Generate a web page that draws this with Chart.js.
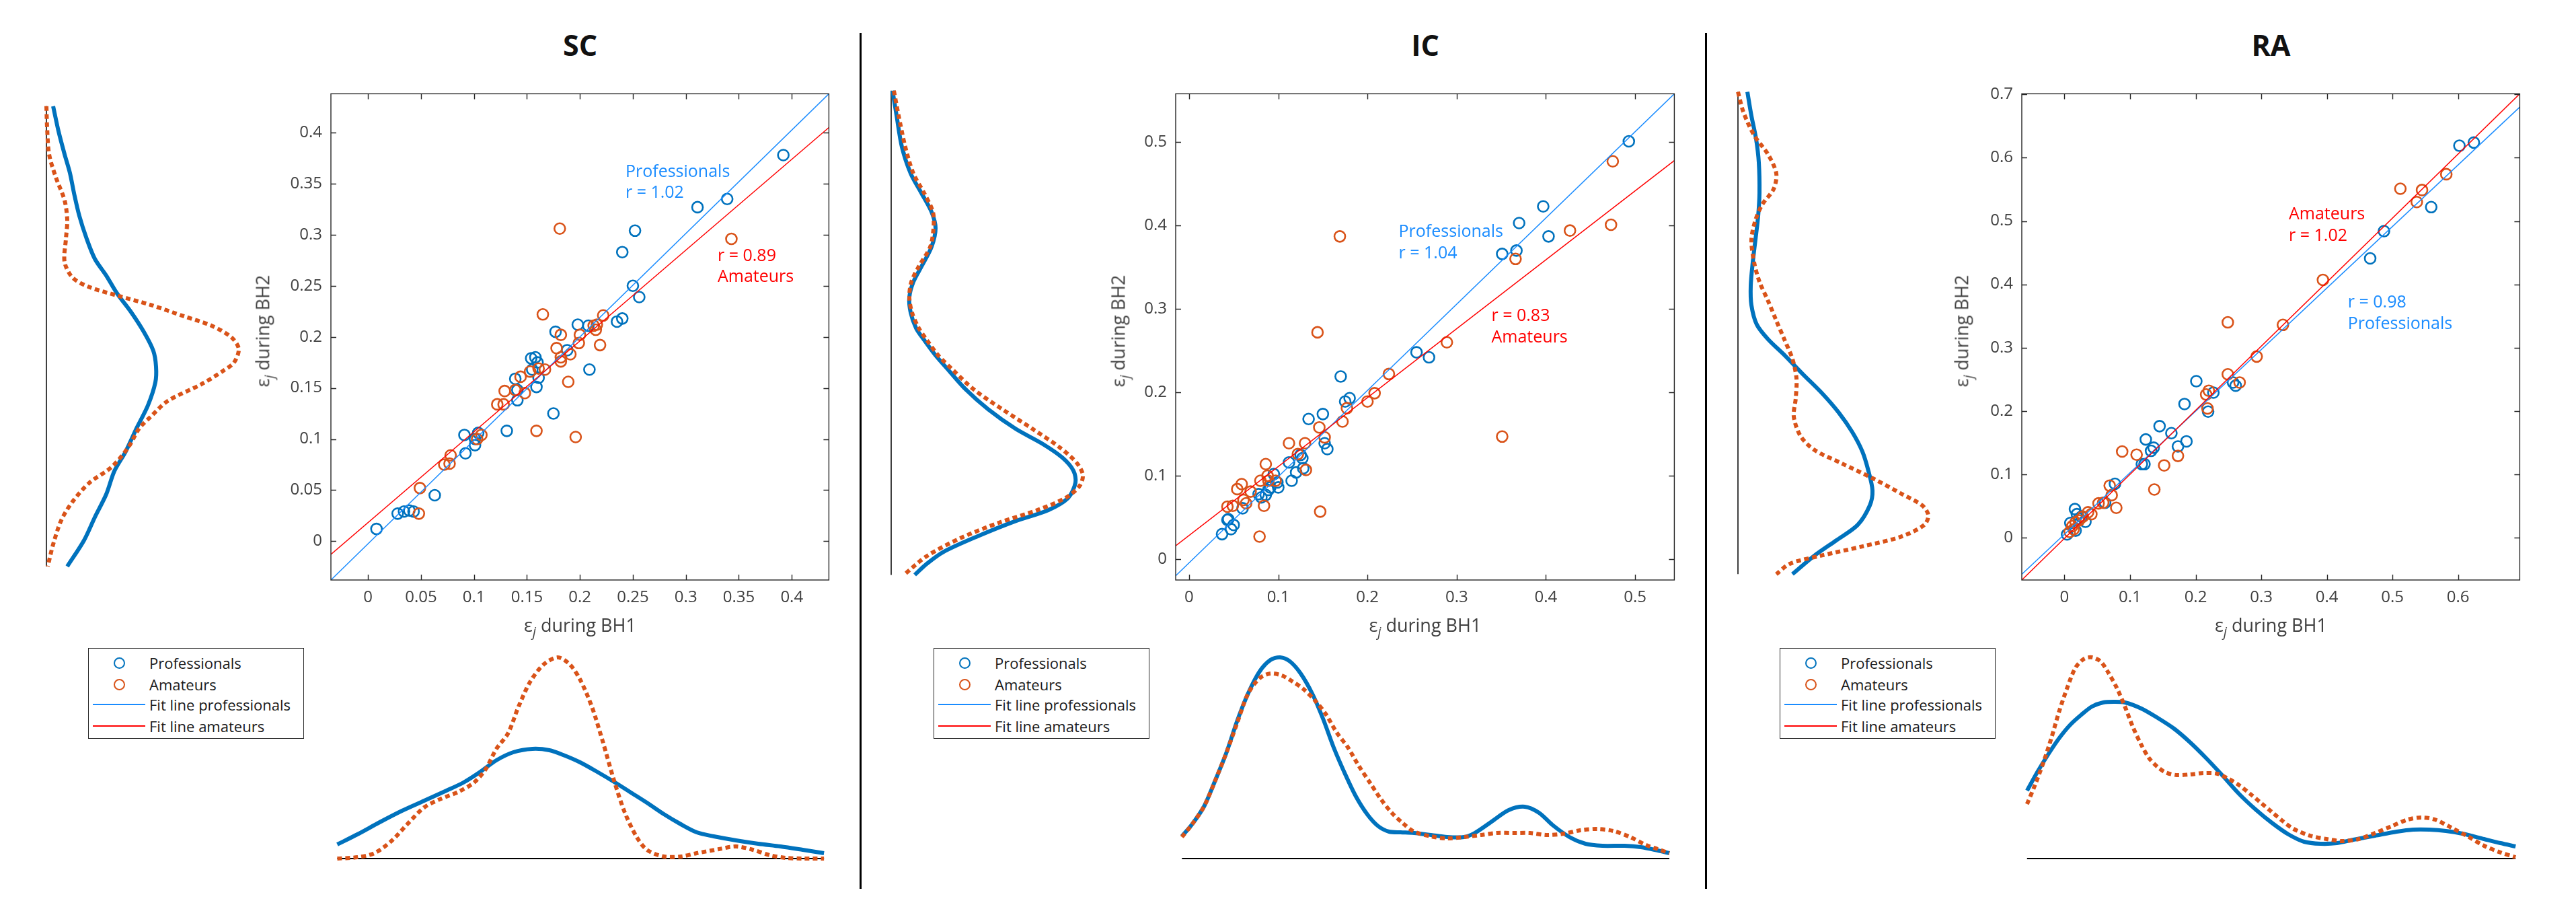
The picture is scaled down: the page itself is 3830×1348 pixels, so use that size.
<!DOCTYPE html>
<html>
<head>
<meta charset="utf-8">
<script src="https://cdn.jsdelivr.net/npm/chart.js@4.4.0/dist/chart.umd.min.js"></script>
<style>
body{margin:0;background:#fff;width:3830px;height:1348px;position:relative;overflow:hidden;font-family:"Open Sans",sans-serif}
canvas{position:absolute}
.title{position:absolute;font-weight:bold;font-size:43px;color:#111;transform:translate(-50%,-50%);white-space:nowrap}
.xlab,.ylab{position:absolute;font-size:27px;color:#404040;white-space:nowrap;line-height:1}
.xlab{transform:translate(-50%,-50%)}
.ylab{transform:translate(-50%,-50%) rotate(-90deg)}
sub{font-size:0.72em;vertical-align:-0.35em}
.sep{position:absolute;width:3px;background:#000}
.legend{position:absolute;width:321px;height:135px;border:1.5px solid #262626;box-sizing:border-box;background:#fff}
.row{position:absolute;left:0;height:30px;width:100%}
.row .txt{position:absolute;left:90px;top:50%;transform:translateY(-50%);font-size:22px;color:#1a1a1a;white-space:nowrap}
.row .mk{position:absolute;left:37px;top:50%;width:17px;height:17px;margin-top:-8.5px;border:2.7px solid;border-radius:50%;box-sizing:border-box}
.row .ln{position:absolute;left:6px;width:78px;top:50%;height:1.6px;margin-top:-0.8px}
</style>
</head>
<body>
<script>
// ---------- SC ----------
const scTicks = [0, 0.05, 0.1, 0.15, 0.2, 0.25, 0.3, 0.35, 0.4]
const scTickLabels = ['0', '0.05', '0.1', '0.15', '0.2', '0.25', '0.3', '0.35', '0.4']
const scPro = [[0.008,0.012],[0.028,0.027],[0.034,0.029],[0.039,0.030],[0.043,0.029],[0.063,0.045],[0.091,0.104],[0.092,0.086],[0.101,0.094],[0.101,0.100],[0.104,0.106],[0.131,0.108],[0.139,0.159],[0.141,0.138],[0.141,0.148],[0.154,0.179],[0.158,0.180],[0.159,0.151],[0.161,0.160],[0.160,0.175],[0.155,0.168],[0.175,0.125],[0.177,0.205],[0.188,0.187],[0.198,0.212],[0.208,0.211],[0.209,0.168],[0.235,0.215],[0.240,0.218],[0.240,0.283],[0.250,0.250],[0.252,0.304],[0.256,0.239],[0.311,0.327],[0.339,0.335],[0.392,0.378]]
const scAma = [[0.048,0.027],[0.049,0.052],[0.072,0.075],[0.077,0.076],[0.078,0.084],[0.103,0.100],[0.107,0.104],[0.122,0.134],[0.128,0.134],[0.129,0.147],[0.139,0.148],[0.148,0.145],[0.144,0.161],[0.153,0.166],[0.159,0.108],[0.161,0.169],[0.167,0.168],[0.165,0.222],[0.178,0.189],[0.181,0.306],[0.182,0.202],[0.182,0.180],[0.182,0.176],[0.189,0.156],[0.191,0.183],[0.196,0.102],[0.199,0.194],[0.200,0.202],[0.213,0.211],[0.215,0.207],[0.216,0.212],[0.219,0.192],[0.222,0.221],[0.343,0.296]]
const scFitPro = [[-0.035,-0.038],[0.435,0.438]]
const scFitAma = [[-0.035,-0.013],[0.435,0.405]]
const scNoteText = ['Professionals', 'r = 1.02', 'r = 0.89', 'Amateurs']
// densities: [eps, density]
const scLeftPro = [[0.415,0.10],[0.391,0.18],[0.369,0.27],[0.351,0.35],[0.332,0.41],[0.310,0.49],[0.288,0.60],[0.269,0.72],[0.253,0.89],[0.236,1.05],[0.218,1.26],[0.199,1.45],[0.181,1.59],[0.166,1.63],[0.151,1.62],[0.129,1.51],[0.107,1.34],[0.085,1.18],[0.066,1.01],[0.044,0.89],[0.022,0.72],[0.000,0.56],[-0.025,0.31]]
const scLeftAma = [[0.415,0.00],[0.395,0.01],[0.369,0.04],[0.347,0.14],[0.325,0.27],[0.306,0.31],[0.288,0.29],[0.266,0.27],[0.251,0.39],[0.242,0.64],[0.234,1.05],[0.225,1.55],[0.214,2.05],[0.205,2.46],[0.194,2.75],[0.183,2.86],[0.170,2.79],[0.162,2.63],[0.149,2.30],[0.133,1.80],[0.118,1.55],[0.107,1.38],[0.089,1.22],[0.070,0.97],[0.055,0.64],[0.037,0.39],[0.019,0.22],[-0.004,0.10],[-0.025,0.02]]
const scBotPro = [[-0.029,0.21],[-0.010,0.36],[0.011,0.54],[0.032,0.71],[0.053,0.86],[0.074,1.01],[0.090,1.13],[0.106,1.29],[0.121,1.46],[0.137,1.58],[0.155,1.63],[0.171,1.61],[0.184,1.54],[0.200,1.43],[0.216,1.29],[0.232,1.14],[0.247,0.99],[0.263,0.83],[0.279,0.66],[0.295,0.51],[0.310,0.39],[0.326,0.33],[0.347,0.27],[0.368,0.22],[0.389,0.18],[0.410,0.13],[0.430,0.08]]
const scBotAma = [[-0.029,0.00],[-0.010,0.02],[0.006,0.08],[0.022,0.26],[0.037,0.51],[0.053,0.76],[0.069,0.89],[0.085,0.99],[0.100,1.13],[0.111,1.33],[0.121,1.63],[0.132,1.86],[0.142,2.26],[0.153,2.63],[0.166,2.89],[0.179,2.99],[0.190,2.89],[0.200,2.66],[0.211,2.26],[0.221,1.76],[0.232,1.16],[0.242,0.69],[0.253,0.33],[0.263,0.13],[0.279,0.03],[0.295,0.03],[0.310,0.08],[0.331,0.14],[0.347,0.18],[0.363,0.13],[0.379,0.05],[0.394,0.01],[0.410,0.00],[0.430,0.00]]

// ---------- IC ----------
const icXTicks = [0, 0.1, 0.2, 0.3, 0.4, 0.5]
const icXTickLabels = ['0', '0.1', '0.2', '0.3', '0.4', '0.5']
const icYTicks = [0, 0.1, 0.2, 0.3, 0.4, 0.5]
const icYTickLabels = ['0', '0.1', '0.2', '0.3', '0.4', '0.5']
const icPro = [[0.037,0.030],[0.047,0.036],[0.050,0.041],[0.043,0.047],[0.044,0.048],[0.060,0.061],[0.078,0.078],[0.081,0.074],[0.086,0.077],[0.089,0.083],[0.091,0.086],[0.095,0.102],[0.099,0.092],[0.100,0.086],[0.115,0.094],[0.112,0.116],[0.120,0.104],[0.125,0.125],[0.127,0.121],[0.128,0.109],[0.134,0.168],[0.150,0.174],[0.152,0.139],[0.155,0.132],[0.170,0.219],[0.175,0.189],[0.180,0.193],[0.255,0.248],[0.269,0.242],[0.351,0.366],[0.367,0.370],[0.370,0.403],[0.397,0.423],[0.403,0.387],[0.493,0.501]]
const icAma = [[0.079,0.027],[0.043,0.063],[0.049,0.064],[0.054,0.084],[0.059,0.090],[0.064,0.067],[0.061,0.071],[0.069,0.081],[0.080,0.094],[0.084,0.064],[0.086,0.114],[0.088,0.100],[0.089,0.094],[0.097,0.094],[0.112,0.139],[0.122,0.126],[0.130,0.139],[0.131,0.107],[0.144,0.272],[0.146,0.158],[0.147,0.057],[0.152,0.146],[0.169,0.387],[0.172,0.165],[0.177,0.181],[0.200,0.189],[0.208,0.199],[0.224,0.222],[0.289,0.260],[0.351,0.147],[0.366,0.360],[0.427,0.394],[0.473,0.401],[0.475,0.477]]
const icFitPro = [[-0.015,-0.020],[0.544,0.558]]
const icFitAma = [[-0.015,0.016],[0.544,0.478]]
const icNoteText = ['Professionals', 'r = 1.04', 'r = 0.83', 'Amateurs']
const icLeftPro = [[0.548,0.02],[0.519,0.08],[0.482,0.16],[0.451,0.29],[0.428,0.45],[0.406,0.60],[0.387,0.66],[0.365,0.60],[0.342,0.45],[0.324,0.33],[0.306,0.27],[0.288,0.29],[0.270,0.37],[0.256,0.49],[0.238,0.66],[0.220,0.86],[0.198,1.11],[0.175,1.44],[0.152,1.85],[0.134,2.26],[0.118,2.55],[0.103,2.71],[0.089,2.74],[0.071,2.63],[0.057,2.34],[0.044,1.85],[0.026,1.28],[0.008,0.78],[-0.006,0.53],[-0.019,0.35]]
const icLeftAma = [[0.548,0.04],[0.519,0.11],[0.482,0.21],[0.451,0.33],[0.428,0.49],[0.406,0.62],[0.387,0.63],[0.365,0.58],[0.342,0.41],[0.324,0.30],[0.306,0.27],[0.288,0.31],[0.270,0.41],[0.256,0.53],[0.238,0.70],[0.220,0.93],[0.198,1.23],[0.175,1.65],[0.152,2.10],[0.130,2.51],[0.112,2.76],[0.098,2.85],[0.085,2.80],[0.071,2.59],[0.057,2.18],[0.042,1.60],[0.024,1.03],[0.003,0.53],[-0.019,0.19]]
const icBotPro = [[-0.008,0.33],[0.004,0.52],[0.017,0.78],[0.029,1.15],[0.042,1.58],[0.054,2.05],[0.066,2.45],[0.079,2.78],[0.091,2.95],[0.102,2.99],[0.113,2.93],[0.125,2.75],[0.138,2.45],[0.150,2.08],[0.162,1.65],[0.175,1.25],[0.187,0.92],[0.200,0.65],[0.212,0.48],[0.224,0.40],[0.237,0.39],[0.252,0.38],[0.271,0.35],[0.289,0.32],[0.308,0.32],[0.320,0.38],[0.339,0.55],[0.358,0.72],[0.376,0.77],[0.392,0.68],[0.407,0.50],[0.426,0.32],[0.444,0.22],[0.463,0.19],[0.488,0.19],[0.506,0.17],[0.525,0.12],[0.538,0.08]]
const icBotAma = [[-0.008,0.32],[0.004,0.52],[0.017,0.78],[0.029,1.15],[0.042,1.58],[0.054,2.02],[0.066,2.45],[0.079,2.68],[0.091,2.75],[0.104,2.72],[0.116,2.63],[0.128,2.52],[0.141,2.35],[0.153,2.15],[0.165,1.88],[0.178,1.65],[0.190,1.38],[0.203,1.12],[0.215,0.88],[0.227,0.68],[0.240,0.52],[0.252,0.40],[0.271,0.33],[0.289,0.30],[0.308,0.32],[0.327,0.35],[0.345,0.38],[0.364,0.38],[0.382,0.38],[0.401,0.35],[0.420,0.37],[0.438,0.42],[0.457,0.44],[0.475,0.41],[0.494,0.32],[0.512,0.20],[0.525,0.14],[0.538,0.08]]

// ---------- RA ----------
const raXTicks = [0, 0.1, 0.2, 0.3, 0.4, 0.5, 0.6]
const raXTickLabels = ['0', '0.1', '0.2', '0.3', '0.4', '0.5', '0.6']
const raYTicks = [0, 0.1, 0.2, 0.3, 0.4, 0.5, 0.6, 0.7]
const raYTickLabels = ['0', '0.1', '0.2', '0.3', '0.4', '0.5', '0.6', '0.7']
const raPro = [[0.004,0.005],[0.009,0.023],[0.016,0.045],[0.019,0.037],[0.022,0.030],[0.032,0.025],[0.026,0.033],[0.017,0.011],[0.062,0.055],[0.077,0.085],[0.118,0.116],[0.122,0.116],[0.124,0.155],[0.132,0.137],[0.136,0.142],[0.145,0.176],[0.163,0.165],[0.173,0.144],[0.183,0.211],[0.186,0.152],[0.201,0.247],[0.219,0.199],[0.227,0.229],[0.257,0.245],[0.261,0.240],[0.466,0.441],[0.487,0.484],[0.559,0.522],[0.602,0.619],[0.624,0.624]]
const raAma = [[0.008,0.009],[0.012,0.018],[0.017,0.024],[0.022,0.027],[0.028,0.033],[0.036,0.040],[0.041,0.037],[0.014,0.013],[0.052,0.054],[0.059,0.055],[0.069,0.082],[0.072,0.067],[0.079,0.047],[0.088,0.136],[0.110,0.131],[0.137,0.076],[0.152,0.114],[0.173,0.129],[0.216,0.226],[0.220,0.232],[0.218,0.204],[0.249,0.258],[0.249,0.340],[0.267,0.245],[0.293,0.286],[0.333,0.336],[0.394,0.407],[0.512,0.551],[0.537,0.530],[0.545,0.549],[0.582,0.574]]
const raFitPro = [[-0.065,-0.058],[0.694,0.680]]
const raFitAma = [[-0.065,-0.067],[0.694,0.701]]
const raNoteText = ['r = 0.98', 'Professionals', 'Amateurs', 'r = 1.02']
const raLeftPro = [[0.686,0.14],[0.649,0.20],[0.613,0.27],[0.577,0.31],[0.530,0.32],[0.494,0.30],[0.458,0.26],[0.423,0.22],[0.387,0.19],[0.357,0.20],[0.327,0.28],[0.304,0.45],[0.280,0.69],[0.250,0.97],[0.220,1.26],[0.191,1.50],[0.161,1.70],[0.131,1.85],[0.101,1.94],[0.071,2.00],[0.048,1.96],[0.018,1.78],[-0.006,1.46],[-0.030,1.13],[-0.058,0.81]]
const raLeftAma = [[0.686,0.00],[0.655,0.08],[0.619,0.24],[0.589,0.45],[0.560,0.57],[0.536,0.53],[0.512,0.36],[0.488,0.26],[0.458,0.20],[0.423,0.24],[0.393,0.32],[0.363,0.45],[0.333,0.57],[0.304,0.69],[0.274,0.81],[0.244,0.87],[0.214,0.86],[0.185,0.83],[0.155,0.93],[0.134,1.13],[0.113,1.54],[0.089,2.02],[0.066,2.43],[0.048,2.74],[0.033,2.83],[0.018,2.77],[0.000,2.43],[-0.015,1.86],[-0.030,1.21],[-0.042,0.77],[-0.058,0.57]]
const raBotPro = [[-0.057,1.01],[-0.041,1.29],[-0.024,1.56],[-0.008,1.79],[0.009,1.99],[0.026,2.14],[0.042,2.26],[0.059,2.32],[0.075,2.33],[0.092,2.32],[0.117,2.23],[0.142,2.09],[0.167,1.93],[0.191,1.73],[0.216,1.49],[0.241,1.23],[0.266,0.96],[0.291,0.73],[0.316,0.53],[0.341,0.36],[0.365,0.25],[0.390,0.22],[0.415,0.23],[0.440,0.28],[0.473,0.34],[0.506,0.40],[0.531,0.43],[0.556,0.43],[0.581,0.41],[0.606,0.37],[0.639,0.29],[0.664,0.23],[0.687,0.18]]
const raBotAma = [[-0.057,0.81],[-0.045,1.09],[-0.032,1.43],[-0.020,1.79],[-0.008,2.19],[0.005,2.56],[0.017,2.84],[0.030,2.97],[0.042,2.99],[0.055,2.93],[0.067,2.76],[0.080,2.53],[0.092,2.26],[0.104,1.96],[0.117,1.69],[0.129,1.49],[0.142,1.36],[0.154,1.28],[0.171,1.24],[0.191,1.25],[0.212,1.27],[0.233,1.26],[0.249,1.19],[0.266,1.09],[0.283,0.96],[0.299,0.83],[0.316,0.69],[0.332,0.56],[0.349,0.44],[0.374,0.34],[0.399,0.29],[0.423,0.26],[0.448,0.29],[0.473,0.38],[0.498,0.48],[0.523,0.58],[0.544,0.61],[0.564,0.58],[0.589,0.46],[0.614,0.33],[0.639,0.19],[0.664,0.09],[0.687,0.02]]

const legendLabels = ['Professionals', 'Amateurs', 'Fit line professionals', 'Fit line amateurs']

const blue = '#0072bd'
const orange = '#d95319'
const fitBlue = '#1a8cff'
const fitRed = '#ff0000'

Chart.defaults.font.family = '"Open Sans", sans-serif'

// box around the axes with inward ticks (MATLAB look)
const frame = {
    id: 'frame',
    afterDatasetsDraw(chart) {
        const {ctx, chartArea: a, scales: {x, y}} = chart
        ctx.save()
        ctx.strokeStyle = '#262626'
        ctx.lineWidth = 1.4
        ctx.strokeRect(a.left, a.top, a.right - a.left, a.bottom - a.top)
        ctx.beginPath()
        x.ticks.forEach(t => {
            const px = Math.round(x.getPixelForValue(t.value)) + 0.5
            ctx.moveTo(px, a.bottom); ctx.lineTo(px, a.bottom - 8)
            ctx.moveTo(px, a.top); ctx.lineTo(px, a.top + 8)
        })
        y.ticks.forEach(t => {
            const py = Math.round(y.getPixelForValue(t.value)) + 0.5
            ctx.moveTo(a.left, py); ctx.lineTo(a.left + 8, py)
            ctx.moveTo(a.right, py); ctx.lineTo(a.right - 8, py)
        })
        ctx.stroke()
        ctx.restore()
    }
}

// text labels inside the scatter axes
const notes = {
    id: 'notes',
    afterDatasetsDraw(chart, args, opts) {
        const {ctx, scales: {x, y}} = chart
        ctx.save()
        ctx.font = '25px "Open Sans"'
        ctx.textAlign = 'left'
        ctx.textBaseline = 'middle'
        ;(opts.items || []).forEach(n => {
            ctx.fillStyle = n.color
            ctx.fillText(n.text, x.getPixelForValue(n.x), y.getPixelForValue(n.y))
        })
        ctx.restore()
    }
}

const xy = arr => arr.map(([a, b]) => ({x: a, y: b}))

function addCanvas(left, top, w, h) {
    const c = document.createElement('canvas')
    c.width = w
    c.height = h
    c.style.left = left + 'px'
    c.style.top = top + 'px'
    c.style.width = w + 'px'
    c.style.height = h + 'px'
    document.body.appendChild(c)
    return c
}

function addDiv(cls, html, left, top) {
    const d = document.createElement('div')
    d.className = cls
    d.innerHTML = html
    d.style.left = left + 'px'
    d.style.top = top + 'px'
    document.body.appendChild(d)
    return d
}

const panels = [
    {title: 'SC', box: [492, 122, 1233, 862], xr: [-0.035, 0.435], yr: [-0.038, 0.438],
     xTicks: scTicks, xLabels: scTickLabels, yTicks: scTicks, yLabels: scTickLabels,
     pro: scPro, ama: scAma, fitPro: scFitPro, fitAma: scFitAma,
     notes: [[scNoteText[0], 0.243, 0.3615, fitBlue], [scNoteText[1], 0.243, 0.341, fitBlue],
             [scNoteText[2], 0.330, 0.279, fitRed], [scNoteText[3], 0.330, 0.2585, fitRed]],
     leftPro: scLeftPro, leftAma: scLeftAma, botPro: scBotPro, botAma: scBotAma,
     leftBase: 69, ylabX: 393, legendX: 131},
    {title: 'IC', box: [1748, 122, 2490, 862], xr: [-0.015, 0.544], yr: [-0.025, 0.558],
     xTicks: icXTicks, xLabels: icXTickLabels, yTicks: icYTicks, yLabels: icYTickLabels,
     pro: icPro, ama: icAma, fitPro: icFitPro, fitAma: icFitAma,
     notes: [[icNoteText[0], 0.235, 0.392, fitBlue], [icNoteText[1], 0.235, 0.3666, fitBlue],
             [icNoteText[2], 0.339, 0.291, fitRed], [icNoteText[3], 0.339, 0.2654, fitRed]],
     leftPro: icLeftPro, leftAma: icLeftAma, botPro: icBotPro, botAma: icBotAma,
     leftBase: 1325, ylabX: 1665, legendX: 1388},
    {title: 'RA', box: [3006, 122, 3747, 862], xr: [-0.065, 0.694], yr: [-0.067, 0.701],
     xTicks: raXTicks, xLabels: raXTickLabels, yTicks: raYTicks, yLabels: raYTickLabels,
     pro: raPro, ama: raAma, fitPro: raFitPro, fitAma: raFitAma,
     notes: [[raNoteText[0], 0.432, 0.371, fitBlue], [raNoteText[1], 0.432, 0.3375, fitBlue],
             [raNoteText[2], 0.342, 0.5107, fitRed], [raNoteText[3], 0.342, 0.476, fitRed]],
     leftPro: raLeftPro, leftAma: raLeftAma, botPro: raBotPro, botAma: raBotAma,
     leftBase: 2584, ylabX: 2919, legendX: 2646}
]

const densityLine = (data, color, dashed) => ({
    data: data, showLine: true, borderColor: color, borderWidth: 6,
    borderDash: dashed ? [7, 5] : [], borderCapStyle: 'butt',
    pointRadius: 0, tension: 0.3, clip: false
})

panels.forEach(p => {
    const [L, T, R, B] = p.box
    const cx = (L + R) / 2

    // scatter with fit lines
    const sc = addCanvas(L - 130, T - 10, R - L + 140, B - T + 70)
    new Chart(sc, {
        type: 'scatter',
        data: {
            datasets: [
                {data: xy(p.fitAma), showLine: true, borderColor: fitRed, borderWidth: 1.5, pointRadius: 0},
                {data: xy(p.fitPro), showLine: true, borderColor: fitBlue, borderWidth: 1.5, pointRadius: 0},
                {data: xy(p.ama), pointRadius: 8, borderWidth: 2.6, borderColor: orange, backgroundColor: 'rgba(0,0,0,0)'},
                {data: xy(p.pro), pointRadius: 8, borderWidth: 2.6, borderColor: blue, backgroundColor: 'rgba(0,0,0,0)'}
            ]
        },
        options: {
            responsive: false,
            animation: false,
            devicePixelRatio: 1,
            layout: {padding: {left: 0, top: 10, right: 10, bottom: 0}},
            plugins: {
                legend: {display: false},
                tooltip: {enabled: false},
                notes: {items: p.notes.map(([t, x, y, c]) => ({text: t, x: x, y: y, color: c}))}
            },
            scales: {
                x: {
                    type: 'linear', min: p.xr[0], max: p.xr[1],
                    grid: {display: false, drawTicks: false}, border: {display: false},
                    ticks: {padding: 12, color: '#404040', font: {size: 24}, autoSkip: false, maxRotation: 0,
                            callback: (v, i) => p.xLabels[i]},
                    afterBuildTicks: s => { s.ticks = p.xTicks.map(v => ({value: v})) },
                    afterFit: s => { s.height = 60 }
                },
                y: {
                    type: 'linear', min: p.yr[0], max: p.yr[1],
                    grid: {display: false, drawTicks: false}, border: {display: false},
                    ticks: {padding: 13, color: '#404040', font: {size: 24}, autoSkip: false,
                            callback: (v, i) => p.yLabels[i]},
                    afterBuildTicks: s => { s.ticks = p.yTicks.map(v => ({value: v})) },
                    afterFit: s => { s.width = 130 }
                }
            }
        },
        plugins: [frame, notes]
    })

    // density on the left (turned on its side)
    const lc = addCanvas(p.leftBase - 10, T - 10, 320, B - T + 20)
    const lFirst = p.leftPro[0][0], lLast = p.leftPro[p.leftPro.length - 1][0]
    new Chart(lc, {
        type: 'scatter',
        data: {
            datasets: [
                densityLine(p.leftAma.map(([e, d]) => ({x: d, y: e})), orange, true),
                densityLine(p.leftPro.map(([e, d]) => ({x: d, y: e})), blue, false),
                {data: [{x: 0, y: lFirst}, {x: 0, y: lLast}], showLine: true, borderColor: '#000', borderWidth: 1.5, pointRadius: 0, clip: false}
            ]
        },
        options: {
            responsive: false, animation: false, devicePixelRatio: 1,
            layout: {padding: 10},
            plugins: {legend: {display: false}, tooltip: {enabled: false}},
            scales: {
                x: {display: false, min: 0, max: 3},
                y: {display: false, min: p.yr[0], max: p.yr[1]}
            }
        }
    })

    // density below
    const bc = addCanvas(L - 10, 966, R - L + 20, 320)
    const bFirst = p.botPro[0][0], bLast = p.botPro[p.botPro.length - 1][0]
    new Chart(bc, {
        type: 'scatter',
        data: {
            datasets: [
                densityLine(xy(p.botAma), orange, true),
                densityLine(xy(p.botPro), blue, false),
                {data: [{x: bFirst, y: 0}, {x: bLast, y: 0}], showLine: true, borderColor: '#000', borderWidth: 2, pointRadius: 0, clip: false}
            ]
        },
        options: {
            responsive: false, animation: false, devicePixelRatio: 1,
            layout: {padding: 10},
            plugins: {legend: {display: false}, tooltip: {enabled: false}},
            scales: {
                x: {display: false, min: p.xr[0], max: p.xr[1]},
                y: {display: false, min: 0, max: 3}
            }
        }
    })

    // titles and axis labels
    addDiv('title', p.title, cx, 66)
    addDiv('xlab', '&epsilon;<sub><i>j</i></sub> during BH1', cx, 932)
    addDiv('ylab', '&epsilon;<sub><i>j</i></sub> during BH2', p.ylabX, (T + B) / 2)

    // legend
    const lg = addDiv('legend', '', p.legendX, 963)
    const rowY = [21, 53, 83, 115]
    legendLabels.forEach((txt, i) => {
        const r = document.createElement('div')
        r.className = 'row'
        r.style.top = (rowY[i] - 15) + 'px'
        const col = [blue, orange, fitBlue, fitRed][i]
        const sym = i < 2
            ? `<span class="mk" style="border-color:${col}"></span>`
            : `<span class="ln" style="background:${col}"></span>`
        r.innerHTML = sym + `<span class="txt">${txt}</span>`
        lg.appendChild(r)
    })
})

// vertical separators between the panels
;[1279, 2536].forEach(x => {
    const s = document.createElement('div')
    s.className = 'sep'
    s.style.left = (x - 1.5) + 'px'
    s.style.top = '49px'
    s.style.height = '1272px'
    document.body.appendChild(s)
})
</script>
</body>
</html>
